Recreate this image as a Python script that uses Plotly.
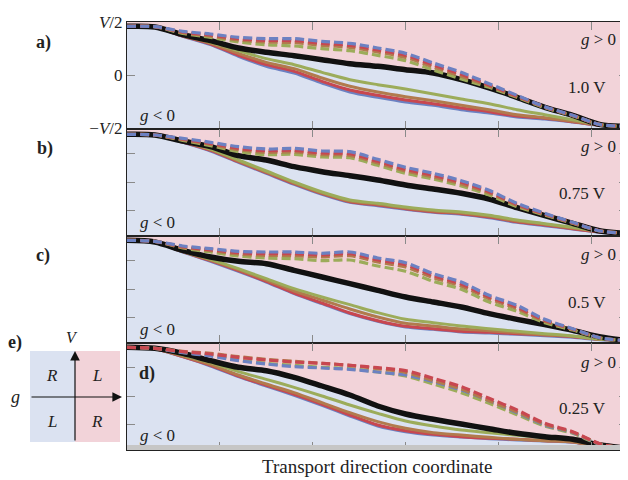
import plotly.graph_objects as go
from plotly.subplots import make_subplots

# transport coordinate (arbitrary units)
X = [0, 0.3, 0.6, 0.9, 1.2, 1.5, 1.8, 2.1, 2.4, 2.7, 3.0, 3.3, 3.6, 3.9, 4.2, 4.5, 4.8, 5.1, 5.385]

# potential profiles (V/2 = 159 units)
A_BLACK = [146, 144, 121, 103, 81, 68, 58, 46, 34, 26, 16, 6, -14, -39, -67, -97, -121, -149, -154]
A_DASH_BLUE = [146, 145, 131, 123, 113, 109, 109, 101, 95, 81, 65, 36, 8, -26, -61, -95, -121, -149, -154]
A_DASH_RED = [146, 145, 129, 120, 109, 104, 103, 95, 89, 75, 59, 30, 2, -30, -63, -96, -121, -149, -154]
A_DASH_BROWN = [146, 145, 127, 117, 105, 99, 97, 89, 83, 69, 53, 24, -4, -33, -65, -97, -122, -149, -154]
A_DASH_GREEN = [146, 145, 125, 113, 99, 91, 87, 79, 73, 59, 43, 15, -12, -37, -67, -98, -122, -149, -154]
A_SOLID_BLUE = [146, 143, 116, 91, 56, 26, 6, -24, -51, -67, -81, -91, -104, -114, -126, -132, -141, -151, -154]
A_SOLID_RED = [146, 143, 117, 93, 59, 31, 11, -19, -45, -61, -75, -86, -99, -110, -123, -130, -140, -151, -154]
A_SOLID_BROWN = [146, 143, 118, 95, 65, 38, 19, -9, -34, -51, -65, -77, -91, -104, -119, -128, -139, -150, -154]
A_SOLID_GREEN = [146, 143, 119, 98, 73, 49, 31, 8, -14, -29, -42, -57, -72, -86, -104, -119, -134, -149, -154]

B_BLACK = [143, 141, 123, 106, 79, 66, 46, 31, 19, 6, -9, -21, -34, -51, -77, -101, -124, -147, -154]
B_DASH_BLUE = [143, 141, 131, 119, 106, 99, 101, 93, 91, 68, 44, 26, 4, -25, -64, -94, -121, -147, -154]
B_DASH_RED = [143, 141, 129, 116, 101, 94, 95, 87, 85, 62, 38, 20, -1, -29, -67, -96, -122, -147, -154]
B_DASH_BROWN = [143, 141, 127, 113, 97, 89, 90, 82, 80, 57, 33, 15, -6, -33, -70, -97, -123, -147, -154]
B_DASH_GREEN = [143, 141, 125, 109, 91, 82, 83, 75, 73, 50, 26, 9, -12, -39, -74, -99, -124, -147, -154]
B_SOLID_BLUE = [143, 141, 119, 93, 59, 26, -7, -37, -61, -71, -82, -91, -97, -107, -121, -131, -141, -151, -154]
B_SOLID_RED = [143, 141, 120, 95, 61, 28, -5, -35, -59, -69, -80, -89, -95, -105, -119, -129, -140, -150, -154]
B_SOLID_BROWN = [143, 141, 121, 97, 63, 30, -3, -33, -57, -67, -78, -87, -93, -103, -117, -127, -138, -149, -154]
B_SOLID_GREEN = [143, 141, 122, 99, 66, 33, 0, -30, -54, -64, -75, -84, -90, -100, -114, -125, -136, -148, -154]

C_BLACK = [146, 141, 116, 96, 83, 76, 56, 36, 16, -4, -24, -39, -54, -74, -91, -107, -124, -144, -155]
C_DASH_BLUE = [146, 143, 129, 121, 113, 111, 111, 107, 111, 93, 79, 46, 21, -19, -49, -91, -119, -147, -155]
C_DASH_RED = [146, 143, 127, 118, 109, 106, 106, 102, 106, 87, 73, 40, 15, -24, -54, -94, -120, -147, -155]
C_DASH_BROWN = [146, 143, 125, 115, 105, 101, 100, 96, 100, 81, 66, 34, 9, -29, -59, -97, -121, -147, -155]
C_DASH_GREEN = [146, 143, 123, 111, 99, 93, 91, 85, 87, 69, 53, 23, -1, -39, -67, -101, -123, -147, -155]
C_SOLID_BLUE = [146, 141, 111, 83, 53, 21, -14, -44, -74, -97, -114, -121, -129, -132, -136, -140, -145, -152, -155]
C_SOLID_RED = [146, 141, 112, 85, 55, 23, -12, -42, -72, -95, -112, -119, -127, -130, -134, -138, -143, -151, -155]
C_SOLID_BROWN = [146, 141, 112, 87, 58, 27, -6, -33, -60, -84, -103, -111, -120, -125, -131, -137, -142, -151, -155]
C_SOLID_GREEN = [146, 141, 113, 89, 61, 31, 1, -24, -47, -71, -91, -101, -111, -119, -127, -134, -141, -151, -155]

D_BLACK = [146, 143, 128, 106, 86, 76, 56, 30, 3, -30, -54, -70, -84, -98, -112, -122, -130, -147, -157]
D_DASH_BLUE = [146, 143, 130, 120, 106, 96, 88, 84, 80, 72, 63, 43, 18, -14, -50, -87, -110, -145, -157]
D_DASH_RED = [146, 143, 133, 126, 116, 108, 102, 98, 92, 85, 76, 53, 28, -7, -42, -82, -107, -144, -157]
D_DASH_BROWN = [146, 143, 134, 128, 118, 110, 104, 98, 92, 82, 71, 46, 21, -14, -48, -85, -109, -144, -157]
D_DASH_GREEN = [146, 143, 131, 122, 108, 98, 92, 86, 82, 72, 60, 36, 10, -22, -56, -90, -112, -146, -157]
D_SOLID_BLUE = [146, 142, 118, 90, 58, 30, 2, -28, -60, -90, -107, -117, -123, -128, -132, -135, -139, -152, -157]
D_SOLID_RED = [146, 142, 118, 92, 60, 32, 5, -25, -57, -87, -104, -115, -122, -127, -130, -134, -138, -152, -157]
D_SOLID_BROWN = [146, 142, 120, 94, 63, 36, 10, -20, -50, -77, -97, -110, -117, -124, -130, -134, -138, -152, -157]
D_SOLID_GREEN = [146, 142, 123, 100, 73, 50, 26, 0, -27, -52, -75, -90, -102, -110, -118, -125, -132, -150, -157]

PANEL_LABELS = ["a)", "b)", "c)", "d)"]
VOLTAGES = ["1.0 V", "0.75 V", "0.5 V", "0.25 V"]
Y_TICK_TEXT = ["<i>V</i>/2", "0", "\u2212<i>V</i>/2"]

BLUE = "#6c81c2"
RED = "#c84750"
BROWN = "#b17b4d"
GREEN = "#9cac5a"
BG_BLUE = "#dbe2f1"
BG_PINK = "#f2d3d9"
SERIF = "Liberation Serif, Times New Roman, serif"

panels = [
    (A_BLACK, [A_SOLID_BLUE, A_SOLID_RED, A_SOLID_BROWN, A_SOLID_GREEN],
     [A_DASH_GREEN, A_DASH_BROWN, A_DASH_RED, A_DASH_BLUE], [GREEN, BROWN, RED, BLUE]),
    (B_BLACK, [B_SOLID_BLUE, B_SOLID_RED, B_SOLID_BROWN, B_SOLID_GREEN],
     [B_DASH_GREEN, B_DASH_BROWN, B_DASH_RED, B_DASH_BLUE], [GREEN, BROWN, RED, BLUE]),
    (C_BLACK, [C_SOLID_BLUE, C_SOLID_RED, C_SOLID_BROWN, C_SOLID_GREEN],
     [C_DASH_GREEN, C_DASH_BROWN, C_DASH_RED, C_DASH_BLUE], [GREEN, BROWN, RED, BLUE]),
    (D_BLACK, [D_SOLID_BLUE, D_SOLID_RED, D_SOLID_BROWN, D_SOLID_GREEN],
     [D_DASH_GREEN, D_DASH_BLUE, D_DASH_BROWN, D_DASH_RED], [GREEN, BLUE, BROWN, RED]),
]
SOLID_COLORS = [BLUE, RED, BROWN, GREEN]

fig = make_subplots(rows=4, cols=1, shared_xaxes=True, vertical_spacing=0)

YMIN, YMAX = -162, 159
for i, (black, solids, dashes, dcols) in enumerate(panels):
    r = i + 1
    fig.add_trace(go.Scatter(x=[X[0], X[-1]], y=[YMIN - 10, YMIN - 10], mode="lines",
                             line=dict(width=0), showlegend=False, hoverinfo="skip"), row=r, col=1)
    fig.add_trace(go.Scatter(x=X, y=black, mode="lines", line=dict(width=0, shape="spline", smoothing=0.8),
                             fill="tonexty", fillcolor=BG_BLUE, showlegend=False, hoverinfo="skip"), row=r, col=1)
    for ys, c in zip(solids, SOLID_COLORS):
        fig.add_trace(go.Scatter(x=X, y=ys, mode="lines",
                                 line=dict(color=c, width=3, shape="spline", smoothing=0.8),
                                 showlegend=False), row=r, col=1)
    fig.add_trace(go.Scatter(x=X, y=black, mode="lines",
                             line=dict(color="#111111", width=5.5, shape="spline", smoothing=0.8),
                             showlegend=False), row=r, col=1)
    for ys, c in zip(dashes, dcols):
        fig.add_trace(go.Scatter(x=X, y=ys, mode="lines",
                                 line=dict(color=c, width=3.2, dash="9px,4px", shape="spline", smoothing=0.8),
                                 showlegend=False), row=r, col=1)

for i in range(4):
    r = i + 1
    fig.update_xaxes(range=[0, 5.385], tickvals=[1, 2, 3, 4, 5], showticklabels=False,
                     ticks="inside", ticklen=8, tickcolor="#8a8a8a", tickwidth=1,
                     showline=True, linecolor="#222222", linewidth=1.2, mirror="ticks",
                     showgrid=False, zeroline=False, automargin=False, row=r, col=1)
    if i == 0:
        fig.update_yaxes(tickvals=[159, 0, -159], ticktext=Y_TICK_TEXT, showticklabels=True, row=r, col=1)
    else:
        fig.update_yaxes(tickvals=[-85, 0, 85], showticklabels=False, row=r, col=1)
    fig.update_yaxes(range=[YMIN, YMAX], ticks="inside", ticklen=8, tickcolor="#8a8a8a", tickwidth=1,
                     showline=True, linecolor="#222222", linewidth=1.2, mirror="ticks",
                     showgrid=False, zeroline=False, automargin=False,
                     tickfont=dict(family=SERIF, size=17, color="#222222"), row=r, col=1)

# screen geometry of the stacked plot area (page adds an 8 px body margin)
OFF = 8
L, W, B, H = 127, 500, 450, 428
FIG_W, FIG_H = 628 - OFF, 480 - OFF


def px(xp):
    return (xp - L) / W


def py(yp):
    return (B - yp) / H


ann = []
label_pos = [(43, 42), (45, 148), (43, 255), (147, 373)]
for lab, (xx, yy) in zip(PANEL_LABELS, label_pos):
    ann.append(dict(x=px(xx), y=py(yy), text="<b>" + lab + "</b>", font=dict(size=18)))
gpos_y = [40, 147, 254, 362]
for yy in gpos_y:
    ann.append(dict(x=px(598), y=py(yy), text="<i>g</i> &gt; 0", font=dict(size=17)))
vpos = [(587, 88), (582, 193), (587, 302), (582, 408)]
for v, (xx, yy) in zip(VOLTAGES, vpos):
    ann.append(dict(x=px(xx), y=py(yy), text=v, font=dict(size=17)))
lpos_y = [115, 222, 329, 435]
for yy in lpos_y:
    ann.append(dict(x=px(157), y=py(yy), text="<i>g</i> &lt; 0", font=dict(size=17)))

# inset e)
ann.append(dict(x=px(15), y=py(342), text="<b>e)</b>", font=dict(size=18)))
ann.append(dict(x=px(72), y=py(337), text="<i>V</i>", font=dict(size=16)))
ann.append(dict(x=px(15), y=py(397), text="<i>g</i>", font=dict(size=18)))
for t, xx, yy in [("R", 52, 375), ("L", 97, 375), ("L", 52, 421), ("R", 97, 421)]:
    ann.append(dict(x=px(xx), y=py(yy), text="<i>" + t + "</i>", font=dict(size=17)))
ann.append(dict(x=px(377), y=py(466), text="Transport direction coordinate", font=dict(size=19)))

for a in ann:
    a.update(xref="paper", yref="paper", showarrow=False, xanchor="center", yanchor="middle")
    a["font"].update(family=SERIF, color="#222222")

# arrows of inset
ann.append(dict(xref="paper", yref="paper", x=px(75), y=py(351), ax=0, ay=91, axref="pixel", ayref="pixel",
                text="", showarrow=True, arrowhead=2, arrowsize=1.6, arrowwidth=1.2, arrowcolor="#111111"))
ann.append(dict(xref="paper", yref="paper", x=px(122), y=py(397), ax=-92, ay=0, axref="pixel", ayref="pixel",
                text="", showarrow=True, arrowhead=2, arrowsize=1.6, arrowwidth=1.2, arrowcolor="#111111"))

shapes = [
    dict(type="rect", xref="paper", yref="paper", x0=px(30), x1=px(75), y0=py(442), y1=py(351),
         fillcolor=BG_BLUE, line=dict(width=0), layer="below"),
    dict(type="rect", xref="paper", yref="paper", x0=px(75), x1=px(120), y0=py(442), y1=py(351),
         fillcolor=BG_PINK, line=dict(width=0), layer="below"),
    dict(type="rect", xref="paper", yref="paper", x0=0, x1=1, y0=0, y1=py(445),
         fillcolor="#c6c6c6", line=dict(width=0), layer="above"),
]

fig.update_layout(
    width=FIG_W, height=FIG_H,
    margin=dict(l=L - OFF, r=FIG_W - (L - OFF) - W, t=22 - OFF, b=FIG_H - (B - OFF), autoexpand=False),
    paper_bgcolor="white", plot_bgcolor=BG_PINK,
    showlegend=False,
    annotations=ann, shapes=shapes,
    font=dict(family=SERIF, color="#222222"),
)

fig.write_html("out.html")
